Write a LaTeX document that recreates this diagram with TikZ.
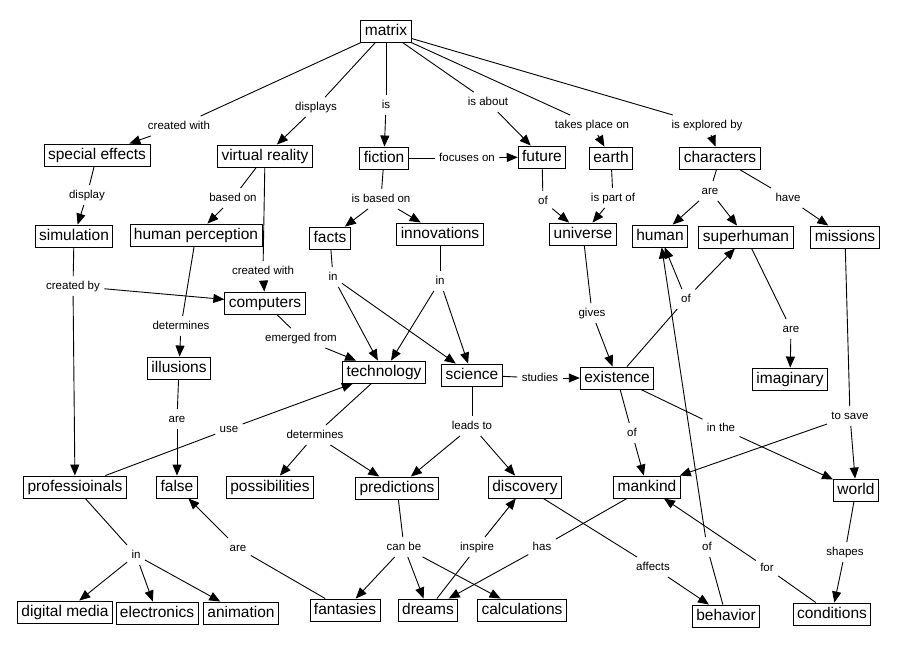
\documentclass[tikz,border=0pt]{standalone}
\usepackage{fontspec}
\setmainfont{Liberation Sans}
\usetikzlibrary{arrows.meta}

\begin{document}
\begin{tikzpicture}[x=1pt,y=-1pt,line width=0.9pt,
		>={Triangle[length=11pt,width=9pt]},
		concept/.style={draw,line width=0.9pt,fill=white,font=\fontsize{15.5}{18}\selectfont,
			text height=11.5pt,text depth=3.5pt,inner xsep=4pt,inner ysep=3.5pt},
		link/.style={font=\fontsize{11.5}{13}\selectfont,text height=8.5pt,text depth=2.5pt,inner sep=4pt}]
		\useasboundingbox[fill=white] (0,0) rectangle (898,646);

		% concepts
		\node[concept] (matrix) at (386,31) {matrix};
		\node[concept] (effects) at (97,155) {special effects};
		\node[concept] (vr) at (265,156) {virtual reality};
		\node[concept] (fiction) at (384,158) {fiction};
		\node[concept] (future) at (542,157) {future};
		\node[concept] (earth) at (611,158) {earth};
		\node[concept] (characters) at (720,158) {characters};
		\node[concept] (simulation) at (74,236) {simulation};
		\node[concept] (perception) at (196,235) {human perception};
		\node[concept] (facts) at (330,238) {facts};
		\node[concept] (innovations) at (440,234) {innovations};
		\node[concept] (universe) at (583,234) {universe};
		\node[concept] (human) at (660,236) {human};
		\node[concept] (superhuman) at (746,237) {superhuman};
		\node[concept] (missions) at (845,237) {missions};
		\node[concept] (computers) at (265,303) {computers};
		\node[concept] (illusions) at (179,368) {illusions};
		\node[concept] (technology) at (384,372) {technology};
		\node[concept] (science) at (472,375) {science};
		\node[concept] (existence) at (617,378) {existence};
		\node[concept] (imaginary) at (790,379) {imaginary};
		\node[concept] (pros) at (75,487) {professioinals};
		\node[concept] (false) at (177,487) {false};
		\node[concept] (possibilities) at (270,487) {possibilities};
		\node[concept] (predictions) at (397,488) {predictions};
		\node[concept] (discovery) at (525,487) {discovery};
		\node[concept] (mankind) at (647,487) {mankind};
		\node[concept] (world) at (856,490) {world};
		\node[concept] (digital) at (65,612) {digital media};
		\node[concept] (electronics) at (157,613) {electronics};
		\node[concept] (animation) at (241,613) {animation};
		\node[concept] (fantasies) at (345,610) {fantasies};
		\node[concept] (dreams) at (428,610) {dreams};
		\node[concept] (calculations) at (522,610) {calculations};
		\node[concept] (behavior) at (726,616) {behavior};
		\node[concept] (conditions) at (832,614) {conditions};

		% linking phrases
		\node[link] (createdwith) at (179,126) {created with};
		\node[link] (displays) at (316,107) {displays};
		\node[link] (is) at (386,105) {is};
		\node[link] (isabout) at (488,102) {is about};
		\node[link] (takesplace) at (592,125) {takes place on};
		\node[link] (explored) at (707,125) {is explored by};
		\node[link] (focuses) at (467,158) {focuses on};
		\node[link] (display) at (87,195) {display};
		\node[link] (basedon) at (233,198) {based on};
		\node[link] (isbased) at (381,199) {is based on};
		\node[link] (offuture) at (543,201) {of};
		\node[link] (partof) at (613,198) {is part of};
		\node[link] (arechar) at (710,191) {are};
		\node[link] (have) at (788,198) {have};
		\node[link] (createdwithvr) at (263,271) {created with};
		\node[link] (createdby) at (73,286) {created by};
		\node[link] (infacts) at (333,277) {in};
		\node[link] (ininno) at (440,281) {in};
		\node[link] (detperc) at (181,326) {determines};
		\node[link] (emerged) at (301,338) {emerged from};
		\node[link] (gives) at (592,313) {gives};
		\node[link] (ofexist) at (686,299) {of};
		\node[link] (aresuper) at (791,329) {are};
		\node[link] (studies) at (540,378) {studies};
		\node[link] (areill) at (177,419) {are};
		\node[link] (use) at (229,429) {use};
		\node[link] (dettech) at (315,435) {determines};
		\node[link] (leadsto) at (472,426) {leads to};
		\node[link] (ofmank) at (632,433) {of};
		\node[link] (inthe) at (721,428) {in the};
		\node[link] (tosave) at (850,416) {to save};
		\node[link] (inpros) at (136,555) {in};
		\node[link] (arefant) at (238,548) {are};
		\node[link] (canbe) at (404,547) {can be};
		\node[link] (inspire) at (477,547) {inspire};
		\node[link] (has) at (542,547) {has};
		\node[link] (affects) at (653,567) {affects};
		\node[link] (ofbeh) at (707,547) {of};
		\node[link] (for) at (767,568) {for};
		\node[link] (shapes) at (845,552) {shapes};

		% connectors
		\draw (matrix) -- (createdwith); \draw[->] (createdwith) -- (effects);
		\draw (matrix) -- (displays); \draw[->] (displays) -- (vr);
		\draw (matrix) -- (is); \draw[->] (is) -- (fiction);
		\draw (matrix) -- (isabout); \draw[->] (isabout) -- (future);
		\draw (matrix) -- (takesplace); \draw[->] (takesplace) -- (earth);
		\draw (matrix) -- (explored); \draw[->] (explored) -- (characters);
		\draw (fiction) -- (focuses); \draw[->] (focuses) -- (future);

		\draw (effects) -- (display); \draw[->] (display) -- (simulation);
		\draw (vr) -- (basedon); \draw[->] (basedon) -- (perception);
		\draw (fiction) -- (isbased); \draw[->] (isbased) -- (facts); \draw[->] (isbased) -- (innovations);
		\draw (future) -- (offuture); \draw[->] (offuture) -- (universe);
		\draw (earth) -- (partof); \draw[->] (partof) -- (universe);
		\draw (characters) -- (arechar); \draw[->] (arechar) -- (human); \draw[->] (arechar) -- (superhuman);
		\draw (characters) -- (have); \draw[->] (have) -- (missions);

		\draw (vr) -- (createdwithvr); \draw[->] (createdwithvr) -- (computers);
		\draw (simulation) -- (createdby); \draw[->] (createdby) -- (computers); \draw[->] (createdby) -- (pros);
		\draw (facts) -- (infacts); \draw[->] (infacts) -- (technology); \draw[->] (infacts) -- (science);
		\draw (innovations) -- (ininno); \draw[->] (ininno) -- (technology); \draw[->] (ininno) -- (science);
		\draw (perception) -- (detperc); \draw[->] (detperc) -- (illusions);
		\draw (computers) -- (emerged); \draw[->] (emerged) -- (technology);
		\draw (universe) -- (gives); \draw[->] (gives) -- (existence);
		\draw (existence) -- (ofexist); \draw[->] (ofexist) -- (human); \draw[->] (ofexist) -- (superhuman);
		\draw (superhuman) -- (aresuper); \draw[->] (aresuper) -- (imaginary);
		\draw (science) -- (studies); \draw[->] (studies) -- (existence);

		\draw (illusions) -- (areill); \draw[->] (areill) -- (false);
		\draw (pros) -- (use); \draw[->] (use) -- (technology);
		\draw (technology) -- (dettech); \draw[->] (dettech) -- (possibilities); \draw[->] (dettech) -- (predictions);
		\draw (science) -- (leadsto); \draw[->] (leadsto) -- (predictions); \draw[->] (leadsto) -- (discovery);
		\draw (existence) -- (ofmank); \draw[->] (ofmank) -- (mankind);
		\draw (existence) -- (inthe); \draw[->] (inthe) -- (world);
		\draw (missions) -- (tosave); \draw[->] (tosave) -- (world); \draw[->] (tosave) -- (mankind);

		\draw (pros) -- (inpros); \draw[->] (inpros) -- (digital); \draw[->] (inpros) -- (electronics); \draw[->] (inpros) -- (animation);
		\draw (fantasies) -- (arefant); \draw[->] (arefant) -- (false);
		\draw (predictions) -- (canbe); \draw[->] (canbe) -- (fantasies); \draw[->] (canbe) -- (dreams); \draw[->] (canbe) -- (calculations);
		\draw (dreams) -- (inspire); \draw[->] (inspire) -- (discovery);
		\draw (mankind) -- (has); \draw[->] (has) -- (dreams);
		\draw (discovery) -- (affects); \draw[->] (affects) -- (behavior);
		\draw (behavior) -- (ofbeh); \draw[->] (ofbeh) -- (human);
		\draw (conditions) -- (for); \draw[->] (for) -- (mankind);
		\draw (world) -- (shapes); \draw[->] (shapes) -- (conditions);
\end{tikzpicture}
\end{document}
